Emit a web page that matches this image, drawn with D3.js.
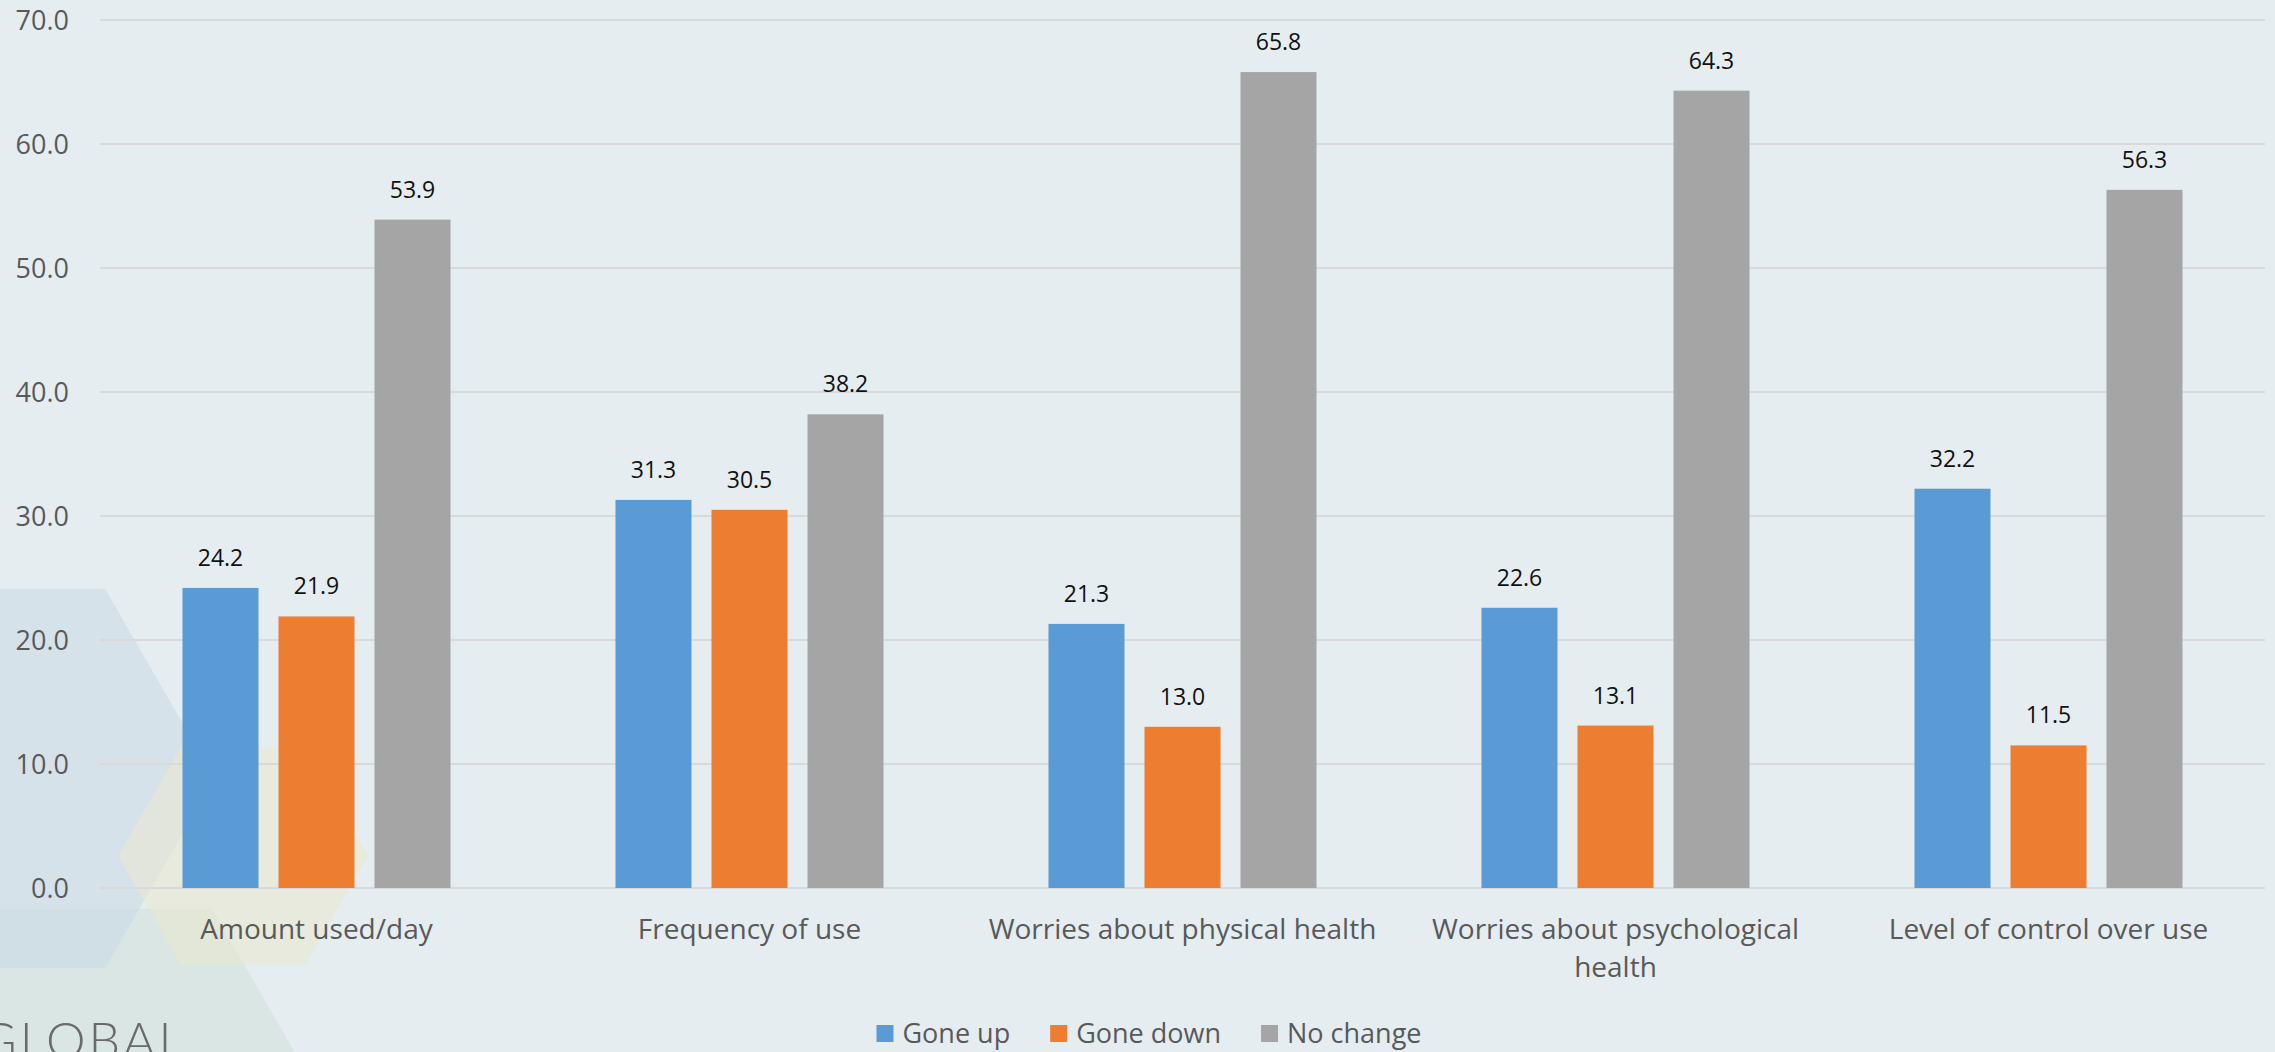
<!DOCTYPE html>
<html>
<head>
<meta charset="utf-8">
<script src="https://cdn.jsdelivr.net/npm/d3@7"></script>
<style>
  html, body { margin: 0; padding: 0; background: #e5edf0; }
  svg { display: block; }
</style>
</head>
<body>
<svg id="chart" width="2275" height="1052"></svg>
<script>
const categories = ["Amount used/day", "Frequency of use", "Worries about physical health", "Worries about psychological health", "Level of control over use"];
const seriesNames = ["Gone up", "Gone down", "No change"];
const goneUp   = [24.2, 31.3, 21.3, 22.6, 32.2];
const goneDown = [21.9, 30.5, 13.0, 13.1, 11.5];
const noChange = [53.9, 38.2, 65.8, 64.3, 56.3];
const yTicks = [0, 10, 20, 30, 40, 50, 60, 70];
const colors = ["#5b9bd5", "#ed7d31", "#a5a5a5"];

const seriesValues = [goneUp, goneDown, noChange];
const W = 2275, H = 1052;
const svg = d3.select("#chart");

// background
svg.append("rect").attr("width", W).attr("height", H).attr("fill", "#e5edf0");

// decorative hexagons (flat-top)
function hex(cx, cy, r) {
  const pts = d3.range(6).map(i => {
    const a = Math.PI / 3 * i;
    return [cx + r * Math.cos(a), cy + r * Math.sin(a)];
  });
  return "M" + pts.map(p => p.join(",")).join("L") + "Z";
}
const deco = svg.append("g");
deco.append("path").attr("d", hex(82, 1134, 260)).attr("fill", "#cfe0d8").attr("opacity", 0.55);
deco.append("path").attr("d", hex(-4.5, 778.5, 219)).attr("fill", "#c9dbe6").attr("opacity", 0.6);
deco.append("path").attr("d", hex(243, 856, 125)).attr("fill", "#ebe8cf").attr("opacity", 0.55);
deco.append("text").attr("x", -20).attr("y", 1058)
  .attr("font-family", "Lato, 'Open Sans', sans-serif").attr("font-weight", 300)
  .attr("font-size", 50).attr("letter-spacing", 3).attr("fill", "#6a6a6a").text("GLOBAL");

// scales
const x0 = d3.scaleBand().domain(categories).range([100, 2265]).padding(0);
const x1 = d3.scaleBand().domain(seriesNames)
  .range([x0.bandwidth() * 0.1905, x0.bandwidth() * 0.8095]).paddingInner(20 / 96).paddingOuter(0);
const y = d3.scaleLinear().domain([0, 70]).range([888, 20]);

// gridlines
svg.append("g").selectAll("line").data(yTicks).join("line")
  .attr("x1", 100).attr("x2", 2265)
  .attr("y1", d => y(d)).attr("y2", d => y(d))
  .attr("stroke", "#d9d9d9").attr("stroke-width", 2);

// y axis labels
const yAxis = d3.axisLeft(y).tickValues(yTicks).tickFormat(d3.format(".1f")).tickSize(0).tickPadding(0);
const ya = svg.append("g").attr("transform", "translate(69,0)").call(yAxis);
ya.select(".domain").remove();
ya.selectAll("text").attr("font-family", "'Open Sans', sans-serif").attr("font-size", 27)
  .attr("fill", "#595959").attr("dy", "0.35em");

// bars
const groups = svg.append("g").selectAll("g").data(categories).join("g")
  .attr("transform", d => `translate(${x0(d)},0)`);
groups.each(function(cat, ci) {
  const g = d3.select(this);
  seriesNames.forEach((s, si) => {
    const v = seriesValues[si][ci];
    g.append("rect")
      .attr("x", x1(s)).attr("width", x1.bandwidth())
      .attr("y", y(v)).attr("height", y(0) - y(v))
      .attr("fill", colors[si]);
    g.append("text")
      .attr("x", x1(s) + x1.bandwidth() / 2).attr("y", y(v) - 22)
      .attr("text-anchor", "middle")
      .attr("font-family", "'Open Sans', sans-serif").attr("font-size", 23)
      .attr("fill", "#111").text(d3.format(".1f")(v));
  });
});

// x axis labels with wrapping
const xAxis = d3.axisBottom(x0).tickSize(0).tickPadding(0);
const xa = svg.append("g").attr("transform", "translate(0,939)").call(xAxis);
xa.select(".domain").remove();
xa.selectAll("text").attr("font-family", "'Open Sans', sans-serif").attr("font-size", 28)
  .attr("fill", "#595959").attr("dy", 0).attr("y", 0)
  .each(function() {
    const t = d3.select(this);
    const words = t.text().split(/\s+/);
    t.text(null);
    let line = [];
    let tspan = t.append("tspan").attr("x", 0).attr("y", 0);
    let lineNo = 0;
    words.forEach(w => {
      line.push(w);
      tspan.text(line.join(" "));
      if (tspan.node().getComputedTextLength() > 425 && line.length > 1) {
        line.pop();
        tspan.text(line.join(" "));
        line = [w];
        lineNo++;
        tspan = t.append("tspan").attr("x", 0).attr("y", lineNo * 38).text(w);
      }
    });
  });

// legend
const legend = svg.append("g");
let lx = 0;
seriesNames.forEach((s, i) => {
  const it = legend.append("g");
  it.append("rect").attr("x", 0).attr("y", 1025).attr("width", 17).attr("height", 17).attr("fill", colors[i]);
  const tx = it.append("text").attr("x", 26).attr("y", 1043)
    .attr("font-family", "'Open Sans', sans-serif").attr("font-size", 27)
    .attr("fill", "#595959").text(s);
  const w = 26 + tx.node().getComputedTextLength();
  it.attr("transform", `translate(${lx},0)`);
  lx += w + 40;
});
const totalW = lx - 40;
legend.attr("transform", `translate(${1149 - totalW / 2},0)`);
</script>
</body>
</html>
